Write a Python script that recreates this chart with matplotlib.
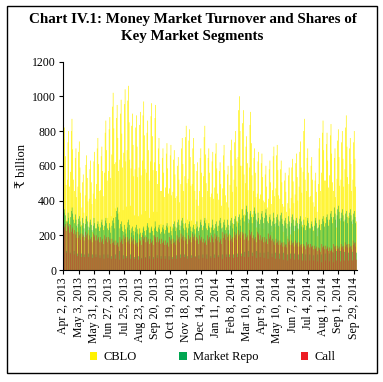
import numpy as np
import matplotlib.pyplot as plt
from matplotlib.patches import Rectangle

# daily turnover (Rs billion), one row per week (Mon-Sat, holiday weeks have 5 days)
cblo_weeks = [
    [535, 755, 820, 655, 490, 285], [520, 735, 800, 480, 280],
    [565, 800, 870, 695, 520, 305], [455, 645, 700, 420, 245],
    [480, 680, 740, 590, 445, 260], [360, 505, 550, 330, 190],
    [430, 605, 660, 530, 395, 230], [410, 580, 630, 505, 380, 220],
    [440, 625, 680, 410, 240], [495, 700, 760, 610, 455, 265],
    [460, 655, 710, 570, 425, 250], [560, 790, 860, 690, 515, 300],
    [570, 810, 880, 530, 310], [665, 940, 1020, 815, 610, 355],
    [620, 875, 950, 760, 570, 335], [635, 900, 980, 785, 590, 345],
    [675, 955, 1040, 625, 365], [690, 975, 1060, 850, 635, 370],
    [585, 830, 900, 720, 540, 315], [580, 820, 890, 710, 535, 310],
    [590, 835, 910, 545, 320], [630, 890, 970, 775, 580, 340],
    [560, 790, 860, 690, 515, 300], [625, 885, 960, 770, 575, 335],
    [620, 875, 950, 570, 335], [495, 700, 760, 610, 455, 265],
    [455, 645, 700, 560, 420, 245], [475, 670, 730, 585, 440, 255],
    [470, 660, 720, 430, 250], [450, 635, 690, 550, 415, 240],
    [425, 600, 650, 520, 390, 230], [495, 700, 760, 610, 455, 265],
    [540, 765, 830, 500, 290], [525, 745, 810, 650, 485, 285],
    [495, 700, 760, 610, 455, 265], [405, 570, 620, 370, 215],
    [455, 645, 700, 560, 420, 245], [540, 765, 830, 665, 500, 290],
    [455, 645, 700, 560, 420, 245], [440, 625, 680, 410, 240],
    [475, 670, 730, 585, 440, 255], [405, 570, 620, 495, 370, 215],
    [470, 660, 720, 575, 430, 250], [390, 550, 600, 360, 210],
    [490, 690, 750, 600, 450, 265], [520, 735, 800, 640, 480, 280],
    [650, 920, 1000, 800, 600, 350], [600, 845, 920, 550, 320],
    [500, 710, 770, 615, 460, 270], [590, 835, 910, 730, 545, 320],
    [455, 645, 700, 560, 420, 245], [440, 625, 680, 410, 240],
    [435, 615, 670, 535, 400, 235], [390, 550, 600, 480, 360, 210],
    [410, 580, 630, 505, 380, 220], [460, 655, 710, 425, 250],
    [470, 660, 720, 575, 430, 250], [410, 580, 630, 505, 380, 220],
    [365, 515, 560, 450, 335, 195], [385, 545, 590, 355, 205],
    [415, 590, 640, 510, 385, 225], [435, 615, 670, 535, 400, 235],
    [480, 680, 740, 590, 445, 260], [565, 800, 870, 520, 305],
    [455, 645, 700, 560, 420, 245], [425, 600, 650, 520, 390, 230],
    [365, 515, 560, 450, 335, 195], [495, 700, 760, 455, 265],
    [560, 790, 860, 690, 515, 300], [515, 725, 790, 630, 475, 275],
    [545, 775, 840, 670, 505, 295], [455, 645, 700, 420, 245],
    [525, 745, 810, 650, 485, 285], [520, 735, 800, 640, 480, 280],
    [580, 820, 890, 710, 535, 310], [495, 700, 760, 610, 455, 265],
    [520, 735, 800, 640, 480, 280],
]

repo_weeks = [
    [300, 330, 350, 315, 280, 110], [280, 330, 300, 265, 100],
    [305, 340, 360, 325, 290, 110], [270, 320, 290, 255, 95],
    [265, 295, 310, 280, 250, 95], [255, 300, 270, 240, 90],
    [265, 295, 310, 280, 250, 95], [245, 275, 290, 260, 230, 90],
    [255, 300, 270, 240, 90], [240, 265, 280, 250, 225, 85],
    [245, 275, 290, 260, 230, 90], [255, 285, 300, 270, 240, 90],
    [230, 270, 245, 215, 80], [255, 285, 300, 270, 240, 90],
    [305, 340, 360, 325, 290, 110], [240, 265, 280, 250, 225, 85],
    [220, 260, 235, 210, 80], [245, 275, 290, 260, 230, 90],
    [215, 240, 250, 225, 200, 75], [220, 245, 260, 235, 210, 80],
    [205, 240, 215, 190, 70], [215, 240, 250, 225, 200, 75],
    [230, 255, 270, 245, 215, 80], [215, 240, 250, 225, 200, 75],
    [240, 280, 250, 225, 85], [220, 245, 260, 235, 210, 80],
    [220, 245, 260, 235, 210, 80], [230, 255, 270, 245, 215, 80],
    [215, 250, 225, 200, 75], [240, 265, 280, 250, 225, 85],
    [245, 275, 290, 260, 230, 90], [255, 285, 300, 270, 240, 90],
    [230, 270, 245, 215, 80], [240, 265, 280, 250, 225, 85],
    [220, 245, 260, 235, 210, 80], [240, 280, 250, 225, 85],
    [245, 275, 290, 260, 230, 90], [255, 285, 300, 270, 240, 90],
    [230, 255, 270, 245, 215, 80], [245, 290, 260, 230, 90],
    [240, 265, 280, 250, 225, 85], [255, 285, 300, 270, 240, 90],
    [245, 275, 290, 260, 230, 90], [245, 290, 260, 230, 90],
    [255, 285, 300, 270, 240, 90], [265, 295, 310, 280, 250, 95],
    [270, 305, 320, 290, 255, 95], [300, 350, 315, 280, 105],
    [315, 350, 370, 335, 295, 110], [290, 325, 340, 305, 270, 100],
    [305, 340, 360, 325, 290, 110], [280, 330, 300, 265, 100],
    [290, 325, 340, 305, 270, 100], [300, 330, 350, 315, 280, 105],
    [270, 305, 320, 290, 255, 95], [280, 330, 300, 265, 100],
    [270, 305, 320, 290, 255, 95], [280, 315, 330, 295, 265, 100],
    [255, 285, 300, 270, 240, 90], [265, 310, 280, 250, 95],
    [270, 305, 320, 290, 255, 95], [255, 285, 300, 270, 240, 90],
    [265, 295, 310, 280, 250, 95], [245, 290, 260, 230, 90],
    [255, 285, 300, 270, 240, 90], [240, 265, 280, 250, 225, 85],
    [255, 285, 300, 270, 240, 90], [245, 290, 260, 230, 90],
    [265, 295, 310, 280, 250, 95], [270, 305, 320, 290, 255, 95],
    [290, 325, 340, 305, 270, 100], [305, 360, 325, 290, 110],
    [315, 350, 370, 335, 295, 110], [300, 330, 350, 315, 280, 105],
    [290, 325, 340, 305, 270, 100], [300, 330, 350, 315, 280, 105],
    [290, 325, 340, 305, 270, 100],
]

call_weeks = [
    [280, 240, 250, 265, 225, 100], [270, 245, 255, 215, 95],
    [260, 220, 235, 245, 210, 90], [230, 205, 220, 185, 80],
    [220, 185, 200, 210, 175, 75], [210, 190, 200, 170, 75],
    [220, 185, 200, 210, 175, 75], [200, 170, 180, 190, 160, 70],
    [210, 190, 200, 170, 75], [200, 170, 180, 190, 160, 70],
    [190, 160, 170, 180, 150, 65], [200, 170, 180, 190, 160, 70],
    [190, 170, 180, 150, 65], [180, 155, 160, 170, 145, 65],
    [170, 145, 155, 160, 135, 60], [190, 160, 170, 180, 150, 65],
    [200, 180, 190, 160, 70], [190, 160, 170, 180, 150, 65],
    [190, 160, 170, 180, 150, 65], [170, 145, 155, 160, 135, 60],
    [180, 160, 170, 145, 65], [200, 170, 180, 190, 160, 70],
    [190, 160, 170, 180, 150, 65], [180, 155, 160, 170, 145, 65],
    [200, 180, 190, 160, 70], [190, 160, 170, 180, 150, 65],
    [180, 155, 160, 170, 145, 65], [170, 145, 155, 160, 135, 60],
    [190, 170, 180, 150, 65], [180, 155, 160, 170, 145, 65],
    [200, 170, 180, 190, 160, 70], [210, 180, 190, 200, 170, 75],
    [190, 170, 180, 150, 65], [200, 170, 180, 190, 160, 70],
    [210, 180, 190, 200, 170, 75], [190, 170, 180, 150, 65],
    [200, 170, 180, 190, 160, 70], [180, 155, 160, 170, 145, 65],
    [200, 170, 180, 190, 160, 70], [200, 180, 190, 160, 70],
    [210, 180, 190, 200, 170, 75], [190, 160, 170, 180, 150, 65],
    [220, 185, 200, 210, 175, 75], [210, 190, 200, 170, 75],
    [200, 170, 180, 190, 160, 70], [220, 185, 200, 210, 175, 75],
    [230, 195, 205, 220, 185, 80], [220, 200, 210, 175, 75],
    [210, 180, 190, 200, 170, 75], [230, 195, 205, 220, 185, 80],
    [200, 170, 180, 190, 160, 70], [220, 200, 210, 175, 75],
    [200, 170, 180, 190, 160, 70], [190, 160, 170, 180, 150, 65],
    [210, 180, 190, 200, 170, 75], [180, 160, 170, 145, 65],
    [180, 155, 160, 170, 145, 65], [170, 145, 155, 160, 135, 60],
    [160, 135, 145, 150, 130, 55], [180, 160, 170, 145, 65],
    [170, 145, 155, 160, 135, 60], [170, 145, 155, 160, 135, 60],
    [160, 135, 145, 150, 130, 55], [150, 135, 140, 120, 55],
    [160, 135, 145, 150, 130, 55], [150, 130, 135, 140, 120, 55],
    [140, 120, 125, 135, 110, 50], [130, 115, 125, 105, 45],
    [150, 130, 135, 140, 120, 55], [140, 120, 125, 135, 110, 50],
    [130, 110, 115, 125, 105, 45], [150, 135, 140, 120, 55],
    [140, 120, 125, 135, 110, 50], [150, 130, 135, 140, 120, 55],
    [160, 135, 145, 150, 130, 55], [150, 130, 135, 140, 120, 55],
    [170, 145, 155, 160, 135, 60],
]

tick_labels = ["Apr 2, 2013", "May 3, 2013", "May 31, 2013", "Jun 27, 2013",
               "Jul 25, 2013", "Aug 23, 2013", "Sep 20, 2013", "Oct 19, 2013",
               "Nov 18, 2013", "Dec 14, 2013", "Jan 11, 2014", "Feb 8, 2014",
               "Mar 10, 2014", "Apr 9, 2014", "May 10, 2014", "Jun 7, 2014",
               "Jul 4, 2014", "Aug 1, 2014", "Sep 1, 2014", "Sep 29, 2014"]
label_step = 23

cblo = [v for wk in cblo_weeks for v in wk]
repo = [v for wk in repo_weeks for v in wk]
call = [v for wk in call_weeks for v in wk]
n = min(len(cblo), len(repo), len(call))
cblo, repo, call = cblo[:n], repo[:n], call[:n]

serif = ['Liberation Serif', 'DejaVu Serif', 'DejaVu Sans']
plt.rcParams['font.family'] = serif

fig = plt.figure(figsize=(3.83, 3.82), dpi=100)
fig.patches.append(Rectangle((7 / 383, 1 - 373 / 382), 370 / 383, 367 / 382,
                             transform=fig.transFigure, fill=False,
                             edgecolor='black', linewidth=1.0))

ax = fig.add_axes([0.1645, 0.293, 0.7665, 0.546])
x = np.arange(n)
# bars packed tightly per day; later series sit over the right part of the slot
ax.bar(x, cblo, width=1.0, color='#FFF200', linewidth=0, snap=False,
       label='CBLO')
ax.bar(x + 0.16, repo, width=0.68, color='#00A651', linewidth=0, snap=False,
       label='Market Repo')
ax.bar(x + 0.22, call, width=0.56, color='#ED1C24', linewidth=0, snap=False,
       label='Call')

ax.set_xlim(-0.5, n - 0.5)
ax.set_ylim(0, 1200)
ax.set_yticks(range(0, 1201, 200))
ax.set_xticks([i * label_step for i in range(len(tick_labels))])
ax.set_xticklabels(tick_labels, rotation=90)
ax.tick_params(labelsize=8.5, length=3, width=0.8, color='black', pad=2)
for s in ['top', 'right']:
    ax.spines[s].set_visible(False)
for s in ['left', 'bottom']:
    ax.spines[s].set_linewidth(0.8)
ax.set_ylabel('\u20b9 billion', fontsize=9, labelpad=3)

fig.text(0.503, 1 - 28 / 382,
         'Chart IV.1: Money Market Turnover and Shares of\nKey Market Segments',
         ha='center', va='center', fontsize=10.8, fontweight='bold',
         linespacing=1.35)

fig.legend(loc='center', bbox_to_anchor=(0.555, 1 - 357 / 382), ncol=3,
           frameon=False, fontsize=9, handlelength=0.6, handleheight=0.6,
           handletextpad=0.5, columnspacing=3.4)

fig.savefig('out.png', dpi=100)
